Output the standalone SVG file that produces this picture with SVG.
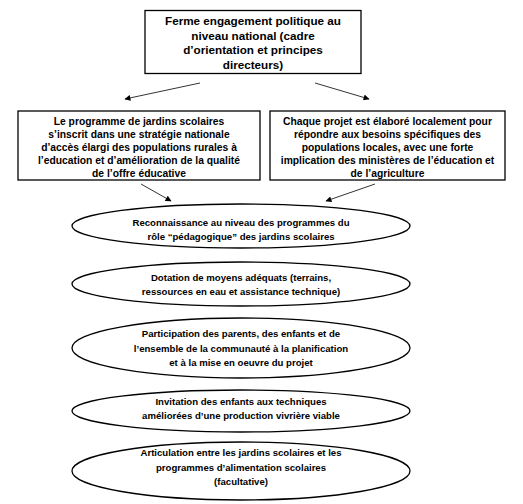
<svg xmlns="http://www.w3.org/2000/svg" width="523" height="504" viewBox="0 0 523 504">
<defs>
<style>
.box{fill:#fff;stroke:#000;stroke-width:1.3}
.ell{fill:#fff;stroke:#000;stroke-width:1.3}
.t{font-family:"Liberation Sans",Arial,sans-serif;font-weight:bold;text-anchor:middle;fill:#000}
.t1{font-size:11.7px}
.t2{font-size:9.6px}
.t3{font-size:10.3px}
.con{stroke:#000;stroke-width:0.8;fill:none;marker-end:url(#ah)}
</style>
<marker id="ah" viewBox="0 0 10 10" refX="9" refY="5" markerWidth="7" markerHeight="6" markerUnits="userSpaceOnUse" orient="auto">
<path d="M0,0 L10,5 L0,10 z" fill="#000"/>
</marker>
</defs>
<rect width="523" height="504" fill="#fff"/>
<g id="connectors">
<line class="con" x1="200" y1="83" x2="125" y2="99"/>
<line class="con" x1="315" y1="83" x2="369" y2="99"/>
<line class="con" x1="141" y1="184" x2="171" y2="201"/>
<line class="con" x1="375" y1="184" x2="326" y2="201"/>
</g>
<g id="n1">
<rect class="box" x="145" y="10.5" width="216" height="63"/>
<text class="t t1" x="253" y="25">Ferme engagement politique au</text>
<text class="t t1" x="253" y="39.5">niveau national (cadre</text>
<text class="t t1" x="253" y="54">d’orientation et principes</text>
<text class="t t1" x="253" y="68.5">directeurs)</text>
</g>
<g id="n2">
<rect class="box" x="18" y="111" width="242" height="69"/>
<text class="t t3" x="139" y="125">Le programme de jardins scolaires</text>
<text class="t t3" x="139" y="138">s’inscrit dans une stratégie nationale</text>
<text class="t t3" x="139" y="151">d’accès élargi des populations rurales à</text>
<text class="t t3" x="139" y="164">l’education et d’amélioration de la qualité</text>
<text class="t t3" x="139" y="177">de l’offre éducative</text>
</g>
<g id="n3">
<rect class="box" x="270" y="111" width="235" height="69"/>
<text class="t t3" x="387.5" y="125">Chaque projet est élaboré localement pour</text>
<text class="t t3" x="387.5" y="138">répondre aux besoins spécifiques des</text>
<text class="t t3" x="387.5" y="151">populations locales, avec une forte</text>
<text class="t t3" x="387.5" y="164">implication des ministères de l’éducation et</text>
<text class="t t3" x="387.5" y="177">de l’agriculture</text>
</g>
<g id="n4">
<ellipse class="ell" cx="241" cy="226" rx="169" ry="22"/>
<text class="t t2" x="241" y="226">Reconnaissance au niveau des programmes du</text>
<text class="t t2" x="241" y="240">rôle “pédagogique” des jardins scolaires</text>
</g>
<g id="n5">
<ellipse class="ell" cx="241" cy="284" rx="169" ry="22"/>
<text class="t t2" x="241" y="281">Dotation de moyens adéquats (terrains,</text>
<text class="t t2" x="241" y="295">ressources en eau et assistance technique)</text>
</g>
<g id="n6">
<ellipse class="ell" cx="241" cy="348" rx="169" ry="30"/>
<text class="t t2" x="241" y="337">Participation des parents, des enfants et de</text>
<text class="t t2" x="241" y="351.5">l’ensemble de la communauté à la planification</text>
<text class="t t2" x="241" y="366">et à la mise en oeuvre du projet</text>
</g>
<g id="n7">
<ellipse class="ell" cx="241" cy="411" rx="169" ry="21"/>
<text class="t t2" x="241" y="405">Invitation des enfants aux techniques</text>
<text class="t t2" x="241" y="419">améliorées d’une production vivrière viable</text>
</g>
<g id="n8">
<ellipse class="ell" cx="241" cy="471" rx="169" ry="29"/>
<text class="t t2" x="241" y="456">Articulation entre les jardins scolaires et les</text>
<text class="t t2" x="241" y="470.5">programmes d’alimentation scolaires</text>
<text class="t t2" x="241" y="485">(facultative)</text>
</g>
</svg>
